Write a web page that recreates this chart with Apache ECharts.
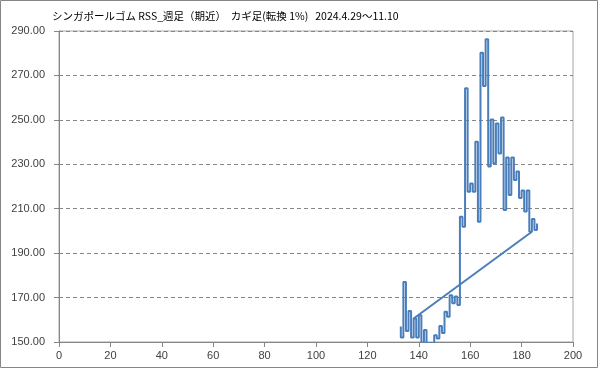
<!DOCTYPE html>
<html>
<head>
<meta charset="utf-8">
<script src="https://cdn.jsdelivr.net/npm/echarts@6/dist/echarts.min.js"></script>
<style>
html,body{margin:0;padding:0;background:#fff;}
#c{width:599px;height:369px;}
</style>
</head>
<body>
<div id="c"></div>
<script>
// ---- data ----
const titleText = 'シンガポールゴム RSS_週足（期近）  カギ足(転換 1%)   2024.4.29～11.10';
const startLevel = 157;
const kagiX = [133,134,135,136,137,138,139,140,141,142,143,144,145,146,147,148,149,150,151,152,153,154,155,156,157,158,159,160,161,162,163,164,165,166,167,168,169,170,171,172,173,174,175,176,177,178,179,180,181,182,183,184,185,186];
const kagiLevel = [152,177,155,164,152,160.6,152,162,148,155.4,148,149.5,147,153,151.6,157.2,154,163.6,161.4,171,167.5,170.5,166.6,206.4,201.9,264.2,217.6,221.4,217.6,240.2,204.1,280.2,265.2,286.3,229,250.2,230.4,248.4,234.9,251.1,209.4,233.1,216.2,233.1,222.9,226.7,214.8,218.2,208.8,218.2,199.6,205.4,200.4,203.4];
const diagX = [138, 184];
const diagY = [160.6, 199.6];
const yTicks = [150,170,190,210,230,250,270,290];
const xTicks = [0,20,40,60,80,100,120,140,160,180,200];

// build kagi step path
const path = [[kagiX[0], startLevel]];
for (let i = 0; i < kagiX.length; i++) {
  if (i > 0) path.push([kagiX[i], kagiLevel[i-1]]);
  path.push([kagiX[i], kagiLevel[i]]);
}
const diag = diagX.map((x,i)=>[x, diagY[i]]);

const chart = echarts.init(document.getElementById('c'), null, {renderer:'canvas'});
const lineColor = '#4A7EBB';
const fontNum = '"Liberation Sans", Arial, sans-serif';
chart.setOption({
  animation:false,
  backgroundColor:'#fff',
  graphic:[
    {type:'rect', shape:{x:0.5,y:0.5,width:597,height:367}, style:{fill:'none', stroke:'#868686', lineWidth:1}, silent:true},
    {type:'text', left:52, top:11, style:{text:titleText, fontSize:10.5, fill:'#000', fontFamily:'"Noto Sans CJK JP", sans-serif'}}
  ],
  grid:{left:59, top:31, width:514, height:311, show:true, borderColor:'#A6A6A6', borderWidth:1, backgroundColor:'transparent'},
  xAxis:{
    type:'value', min:xTicks[0], max:xTicks[xTicks.length-1], interval:20,
    axisLine:{show:true, lineStyle:{color:'#868686', width:1}},
    axisTick:{show:true, length:5, lineStyle:{color:'#868686'}},
    axisLabel:{color:'#404040', fontSize:11, margin:8, fontFamily:fontNum},
    splitLine:{show:false}
  },
  yAxis:{
    type:'value', min:yTicks[0], max:yTicks[yTicks.length-1], interval:20,
    axisLine:{show:true, lineStyle:{color:'#868686', width:1}},
    axisTick:{show:true, length:5, lineStyle:{color:'#868686'}},
    axisLabel:{color:'#404040', fontSize:11, margin:14, fontFamily:fontNum, formatter:v=>v.toFixed(2)},
    splitLine:{show:true, lineStyle:{color:'#868686', type:[4,3], width:1}}
  },
  series:[
    {type:'line', data:path, symbol:'none', lineStyle:{color:lineColor, width:2}, clip:true},
    {type:'line', data:diag, symbol:'none', lineStyle:{color:lineColor, width:2}, clip:true}
  ]
});
</script>
</body>
</html>
